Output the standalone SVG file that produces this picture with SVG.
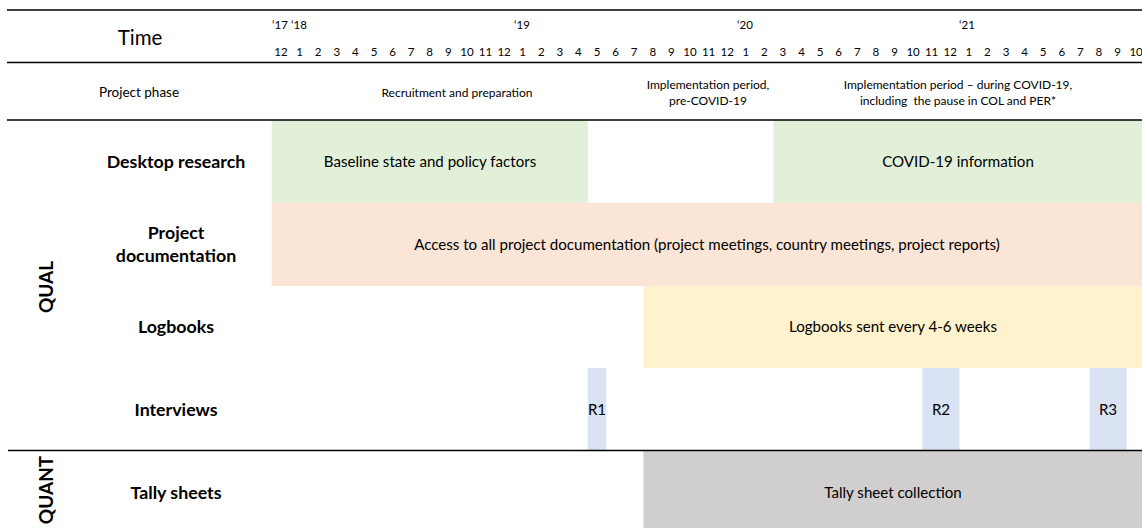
<svg xmlns="http://www.w3.org/2000/svg" width="1142" height="528" viewBox="0 0 1142 528">
<style>
text{font-family:Lato,"Open Sans","Liberation Sans",sans-serif;fill:#000;text-anchor:middle}
.m{font-size:11.5px}
.y{font-size:11.5px}
.ph{font-size:12px}
.rl{font-size:17.8px;font-weight:bold}
.bt{font-size:15.1px}
.sec{font-size:19px;font-weight:bold}
.rule{stroke:#000;stroke-width:1.6}
</style>
<rect width="1142" height="528" fill="#fff"/>
<g id="bars">
<rect x="271.7" y="120" width="316.3" height="83" fill="#E2F0D9"/>
<rect x="773.5" y="120" width="368.5" height="83" fill="#E2F0D9"/>
<rect x="271.7" y="203" width="870.3" height="83" fill="#FBE5D6"/>
<rect x="643.5" y="286" width="498.5" height="82" fill="#FFF2CC"/>
<rect x="587.7" y="368" width="18.6" height="82" fill="#DAE3F3"/>
<rect x="922.3" y="368" width="37.2" height="82" fill="#DAE3F3"/>
<rect x="1089.7" y="368" width="37.2" height="82" fill="#DAE3F3"/>
<rect x="643.5" y="451" width="498.5" height="77" fill="#D0CECE"/>
</g>
<g id="connectors">
<line class="rule" x1="7" y1="10" x2="1142" y2="10"/>
<line class="rule" x1="7" y1="62.5" x2="1142" y2="62.5"/>
<line class="rule" x1="7" y1="120" x2="1142" y2="120"/>
<line class="rule" x1="8" y1="450.5" x2="1142" y2="450.5"/>
</g>
<g id="header">
<text x="140" y="45" style="font-size:20.5px">Time</text>
<text class="y" x="280" y="29">‘17</text>
<text class="y" x="299" y="29">‘18</text>
<text class="y" x="522" y="29">‘19</text>
<text class="y" x="745" y="29">‘20</text>
<text class="y" x="967" y="29">‘21</text>
<g class="m">
<text x="281" y="56">12</text><text x="299.6" y="56">1</text><text x="318.2" y="56">2</text><text x="336.8" y="56">3</text><text x="355.4" y="56">4</text><text x="374" y="56">5</text><text x="392.6" y="56">6</text><text x="411.1" y="56">7</text><text x="429.7" y="56">8</text><text x="448.3" y="56">9</text><text x="466.9" y="56">10</text><text x="485.5" y="56">11</text><text x="504.1" y="56">12</text><text x="522.7" y="56">1</text><text x="541.3" y="56">2</text><text x="559.9" y="56">3</text><text x="578.4" y="56">4</text><text x="597" y="56">5</text><text x="615.6" y="56">6</text><text x="634.2" y="56">7</text><text x="652.8" y="56">8</text><text x="671.4" y="56">9</text><text x="690" y="56">10</text><text x="708.6" y="56">11</text><text x="727.2" y="56">12</text><text x="745.8" y="56">1</text><text x="764.3" y="56">2</text><text x="782.9" y="56">3</text><text x="801.5" y="56">4</text><text x="820.1" y="56">5</text><text x="838.7" y="56">6</text><text x="857.3" y="56">7</text><text x="875.9" y="56">8</text><text x="894.5" y="56">9</text><text x="913.1" y="56">10</text><text x="931.6" y="56">11</text><text x="950.2" y="56">12</text><text x="968.8" y="56">1</text><text x="987.4" y="56">2</text><text x="1006" y="56">3</text><text x="1024.6" y="56">4</text><text x="1043.2" y="56">5</text><text x="1061.8" y="56">6</text><text x="1080.4" y="56">7</text><text x="1098.9" y="56">8</text><text x="1117.5" y="56">9</text><text x="1136.1" y="56">10</text>
</g>
</g>
<g id="phase">
<text class="ph" x="139" y="97" style="font-size:13.5px">Project phase</text>
<text class="ph" x="457" y="97">Recruitment and preparation</text>
<text class="ph" x="708" y="89">Implementation period,</text>
<text class="ph" x="708" y="105">pre-COVID-19</text>
<text class="ph" x="958" y="89">Implementation period – during COVID-19,</text>
<text class="ph" x="958" y="105" xml:space="preserve">including  the pause in COL and PER*</text>
</g>
<g id="qual"><text class="sec" transform="translate(53,287) rotate(-90)">QUAL</text></g>
<g id="quant"><text class="sec" transform="translate(53,490) rotate(-90)">QUANT</text></g>
<g id="desktop">
<text class="rl" x="176" y="168">Desktop research</text>
<text class="bt" x="430" y="167">Baseline state and policy factors</text>
<text class="bt" x="958" y="167">COVID-19 information</text>
</g>
<g id="projdoc">
<text class="rl" x="176" y="239">Project</text>
<text class="rl" x="176" y="262">documentation</text>
<text class="bt" x="707" y="250">Access to all project documentation (project meetings, country meetings, project reports)</text>
</g>
<g id="logbooks">
<text class="rl" x="176" y="333">Logbooks</text>
<text class="bt" x="893" y="332">Logbooks sent every 4-6 weeks</text>
</g>
<g id="interviews">
<text class="rl" x="176" y="416">Interviews</text>
<text class="bt" x="597" y="415">R1</text>
<text class="bt" x="941" y="415">R2</text>
<text class="bt" x="1108" y="415">R3</text>
</g>
<g id="tally">
<text class="rl" x="176" y="499">Tally sheets</text>
<text class="bt" x="893" y="498">Tally sheet collection</text>
</g>
</svg>
